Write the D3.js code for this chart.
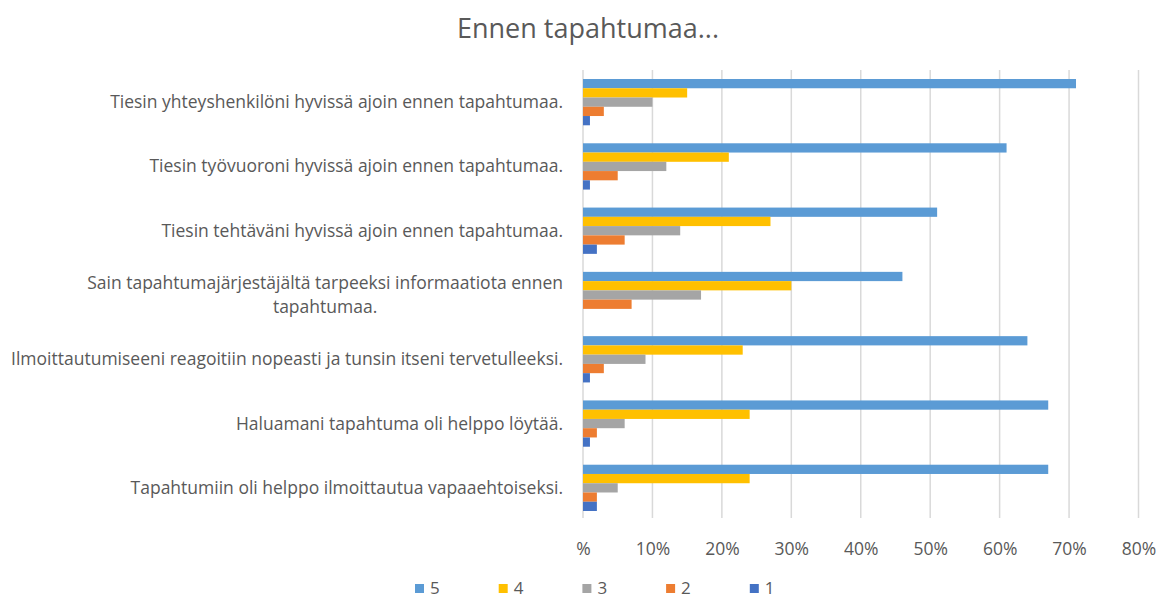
<!DOCTYPE html>
<html>
<head>
<meta charset="utf-8">
<script src="https://cdn.jsdelivr.net/npm/d3@7"></script>
<style>
  body { margin: 0; background: #fff; }
  text { font-family: "Open Sans", sans-serif; fill: #595959; }
</style>
</head>
<body>
<div class="chart"></div>
<script>
var categories = [
  "Tiesin yhteyshenkilöni hyvissä ajoin ennen tapahtumaa.",
  "Tiesin työvuoroni hyvissä ajoin ennen tapahtumaa.",
  "Tiesin tehtäväni hyvissä ajoin ennen tapahtumaa.",
  "Sain tapahtumajärjestäjältä tarpeeksi informaatiota ennen|tapahtumaa.",
  "Ilmoittautumiseeni reagoitiin nopeasti ja tunsin itseni tervetulleeksi.",
  "Haluamani tapahtuma oli helppo löytää.",
  "Tapahtumiin oli helppo ilmoittautua vapaaehtoiseksi."
];
var seriesNames = ["5", "4", "3", "2", "1"];
var seriesColors = ["#5B9BD5", "#FFC000", "#A5A5A5", "#ED7D31", "#4472C4"];
var values5 = [71, 61, 51, 46, 64, 67, 67];
var values4 = [15, 21, 27, 30, 23, 24, 24];
var values3 = [10, 12, 14, 17, 9, 6, 5];
var values2 = [3, 5, 6, 7, 3, 2, 2];
var values1 = [1, 1, 2, 0, 1, 1, 2];
var tickValues = [0, 10, 20, 30, 40, 50, 60, 70, 80];
var tickLabels = ["%", "10%", "20%", "30%", "40%", "50%", "60%", "70%", "80%"];
var chartTitle = "Ennen tapahtumaa...";

var allSeries = [values5, values4, values3, values2, values1];

var width = 1157, height = 597;
var labelSize = "17.5px";
var svg = d3.select(".chart").append("svg")
  .attr("width", width)
  .attr("height", height);

var x = d3.scaleLinear().domain([0, 80]).range([583, 1138.5]);
var y = d3.scaleBand().domain(d3.range(categories.length)).range([70, 520]).paddingInner(0.28).paddingOuter(0.14);
var ySub = d3.scaleBand().domain(d3.range(seriesNames.length)).range([0, y.bandwidth()]);

// title
svg.append("text")
  .attr("x", 588).attr("y", 38)
  .attr("text-anchor", "middle")
  .style("font-size", "27px")
  .text(chartTitle);

// gridlines
svg.append("g").selectAll("line")
  .data(tickValues)
  .enter().append("line")
  .attr("x1", function (d) { return x(d); })
  .attr("x2", function (d) { return x(d); })
  .attr("y1", 70).attr("y2", 518)
  .style("stroke", "#D9D9D9")
  .style("stroke-width", 1.5);

// axis labels
var xAxis = d3.axisBottom(x).tickValues(tickValues)
  .tickFormat(function (d, i) { return tickLabels[i]; })
  .tickSize(0).tickPadding(0);
var ax = svg.append("g").attr("transform", "translate(0,555)").call(xAxis);
ax.select(".domain").remove();
ax.selectAll("text").attr("dy", 0).style("font-size", labelSize).style("font-family", "'Open Sans', sans-serif").style("fill", "#595959");

// bars
var groups = svg.append("g").selectAll("g")
  .data(categories)
  .enter().append("g")
  .attr("transform", function (d, i) { return "translate(0," + y(i) + ")"; });

groups.selectAll("rect")
  .data(function (d, i) { return allSeries.map(function (s, k) { return { k: k, v: s[i] }; }); })
  .enter().append("rect")
  .attr("x", x(0))
  .attr("y", function (d) { return ySub(d.k); })
  .attr("width", function (d) { return x(d.v) - x(0); })
  .attr("height", ySub.bandwidth())
  .style("fill", function (d) { return seriesColors[d.k]; });

// category labels
groups.each(function (d, i) {
  var g = d3.select(this);
  var lines = d.split("|");
  var cy = y.bandwidth() / 2;
  if (lines.length === 1) {
    g.append("text")
      .attr("x", 563).attr("y", cy + 6)
      .attr("text-anchor", "end")
      .style("font-size", labelSize)
      .text(lines[0]);
  } else {
    var t1 = g.append("text")
      .attr("x", 563).attr("y", cy - 6)
      .attr("text-anchor", "end")
      .style("font-size", labelSize)
      .text(lines[0]);
    var w = t1.node().getComputedTextLength();
    g.append("text")
      .attr("x", 563 - w / 2).attr("y", cy + 18)
      .attr("text-anchor", "middle")
      .style("font-size", labelSize)
      .text(lines[1]);
  }
});

// legend
var legend = svg.append("g").selectAll("g")
  .data(seriesNames)
  .enter().append("g")
  .attr("transform", function (d, i) { return "translate(" + (415 + i * 83.7) + ",584)"; });
legend.append("rect")
  .attr("width", 9).attr("height", 9)
  .style("fill", function (d, i) { return seriesColors[i]; });
legend.append("text")
  .attr("x", 15).attr("y", 9.5)
  .style("font-size", "17px")
  .text(function (d) { return d; });
</script>
</body>
</html>
